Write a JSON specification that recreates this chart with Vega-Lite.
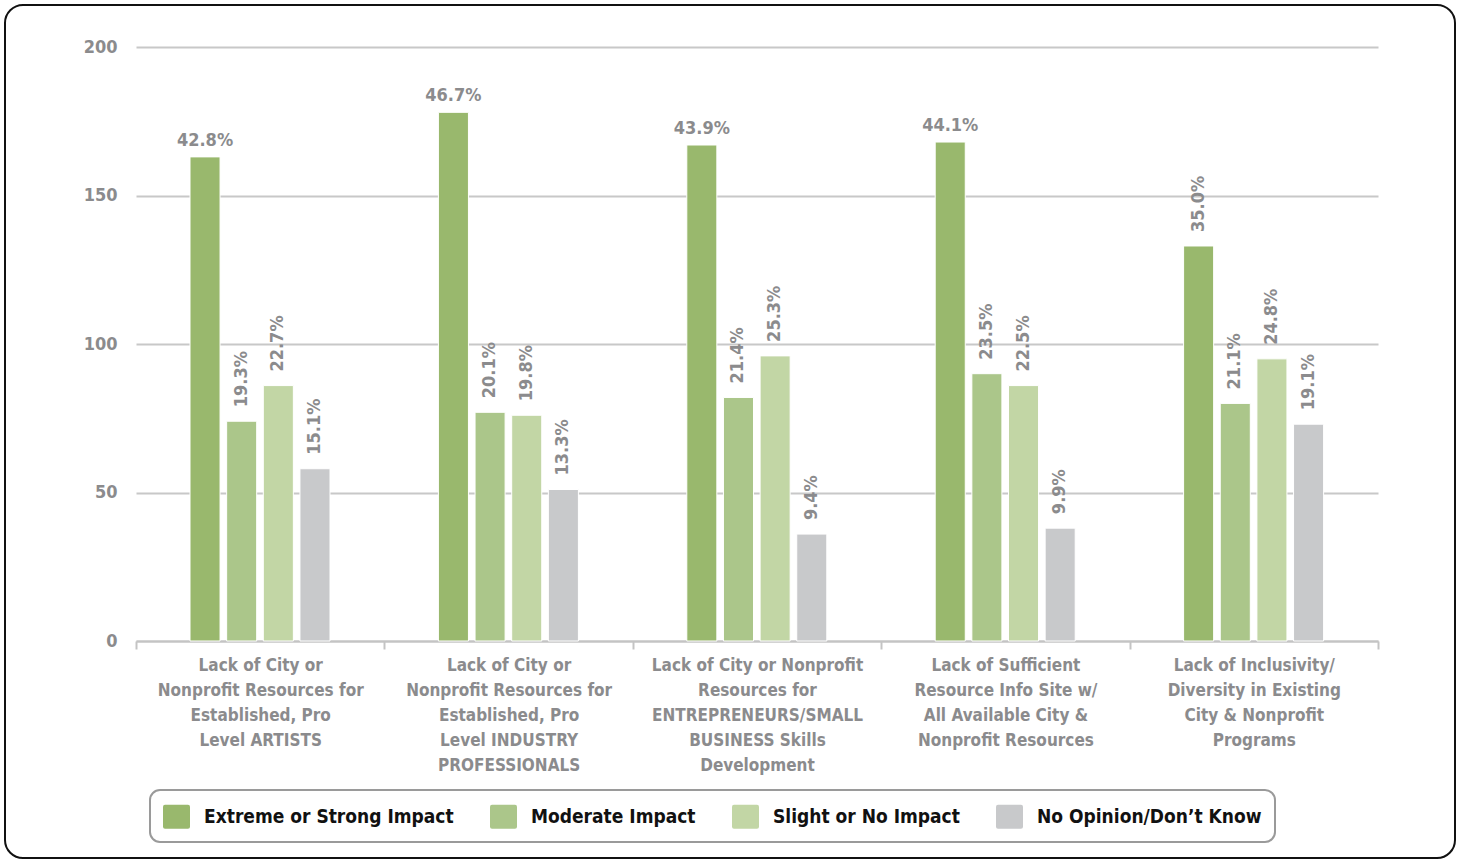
{
  "$schema": "https://vega.github.io/schema/vega-lite/v6.json",
  "width": 1450,
  "height": 853,
  "autosize": {"type": "none"},
  "padding": {"left": 5, "top": 5, "right": 6, "bottom": 2},
  "background": "white",
  "config": {
    "view": {"stroke": "#111111", "strokeWidth": 2, "cornerRadius": 18},
    "font": "DejaVu Sans Condensed, sans-serif",
    "legend": {"strokeWidth": 2}
  },
  "data": {
    "values": [
      {"problem": "Lack of City or|Nonprofit Resources for|Established, Pro|Level ARTISTS", "impact": "Extreme or Strong Impact", "count": 163, "pct": 0.428},
      {"problem": "Lack of City or|Nonprofit Resources for|Established, Pro|Level ARTISTS", "impact": "Moderate Impact", "count": 74, "pct": 0.193},
      {"problem": "Lack of City or|Nonprofit Resources for|Established, Pro|Level ARTISTS", "impact": "Slight or No Impact", "count": 86, "pct": 0.227},
      {"problem": "Lack of City or|Nonprofit Resources for|Established, Pro|Level ARTISTS", "impact": "No Opinion/Don’t Know", "count": 58, "pct": 0.151},
      {"problem": "Lack of City or|Nonprofit Resources for|Established, Pro|Level INDUSTRY|PROFESSIONALS", "impact": "Extreme or Strong Impact", "count": 178, "pct": 0.467},
      {"problem": "Lack of City or|Nonprofit Resources for|Established, Pro|Level INDUSTRY|PROFESSIONALS", "impact": "Moderate Impact", "count": 77, "pct": 0.201},
      {"problem": "Lack of City or|Nonprofit Resources for|Established, Pro|Level INDUSTRY|PROFESSIONALS", "impact": "Slight or No Impact", "count": 76, "pct": 0.198},
      {"problem": "Lack of City or|Nonprofit Resources for|Established, Pro|Level INDUSTRY|PROFESSIONALS", "impact": "No Opinion/Don’t Know", "count": 51, "pct": 0.133},
      {"problem": "Lack of City or Nonprofit|Resources for|ENTREPRENEURS/SMALL|BUSINESS Skills|Development", "impact": "Extreme or Strong Impact", "count": 167, "pct": 0.439},
      {"problem": "Lack of City or Nonprofit|Resources for|ENTREPRENEURS/SMALL|BUSINESS Skills|Development", "impact": "Moderate Impact", "count": 82, "pct": 0.214},
      {"problem": "Lack of City or Nonprofit|Resources for|ENTREPRENEURS/SMALL|BUSINESS Skills|Development", "impact": "Slight or No Impact", "count": 96, "pct": 0.253},
      {"problem": "Lack of City or Nonprofit|Resources for|ENTREPRENEURS/SMALL|BUSINESS Skills|Development", "impact": "No Opinion/Don’t Know", "count": 36, "pct": 0.094},
      {"problem": "Lack of Sufficient|Resource Info Site w/|All Available City &|Nonprofit Resources", "impact": "Extreme or Strong Impact", "count": 168, "pct": 0.441},
      {"problem": "Lack of Sufficient|Resource Info Site w/|All Available City &|Nonprofit Resources", "impact": "Moderate Impact", "count": 90, "pct": 0.235},
      {"problem": "Lack of Sufficient|Resource Info Site w/|All Available City &|Nonprofit Resources", "impact": "Slight or No Impact", "count": 86, "pct": 0.225},
      {"problem": "Lack of Sufficient|Resource Info Site w/|All Available City &|Nonprofit Resources", "impact": "No Opinion/Don’t Know", "count": 38, "pct": 0.099},
      {"problem": "Lack of Inclusivity/|Diversity in Existing|City & Nonprofit|Programs", "impact": "Extreme or Strong Impact", "count": 133, "pct": 0.350},
      {"problem": "Lack of Inclusivity/|Diversity in Existing|City & Nonprofit|Programs", "impact": "Moderate Impact", "count": 80, "pct": 0.211},
      {"problem": "Lack of Inclusivity/|Diversity in Existing|City & Nonprofit|Programs", "impact": "Slight or No Impact", "count": 95, "pct": 0.248},
      {"problem": "Lack of Inclusivity/|Diversity in Existing|City & Nonprofit|Programs", "impact": "No Opinion/Don’t Know", "count": 73, "pct": 0.191}
    ]
  },
  "encoding": {
    "x": {
      "field": "problem",
      "type": "nominal",
      "sort": null,
      "scale": {"range": [131, 1373], "paddingInner": 0, "paddingOuter": 0},
      "axis": {
        "title": null,
        "offset": -217,
        "labelAngle": 0,
        "labelExpr": "split(datum.label, '|')",
        "labelFontSize": 17,
        "labelFontWeight": "bold",
        "labelColor": "#8b8b8d",
        "labelLineHeight": 25,
        "labelPadding": 8,
        "labelLimit": 400,
        "tickBand": "extent",
        "tickSize": 8,
        "tickWidth": 2,
        "tickColor": "#c4c4c4",
        "domainColor": "#c4c4c4",
        "domainWidth": 2,
        "grid": false
      }
    },
    "xOffset": {
      "field": "impact",
      "type": "nominal",
      "sort": ["Extreme or Strong Impact", "Moderate Impact", "Slight or No Impact", "No Opinion/Don’t Know"],
      "scale": {"range": [54, 194], "paddingInner": 0.18, "paddingOuter": 0}
    },
    "y": {
      "field": "count",
      "type": "quantitative",
      "scale": {"domain": [0, 200], "range": [636, 42], "nice": false},
      "axis": {
        "title": null,
        "offset": -112,
        "values": [0, 50, 100, 150, 200],
        "domain": false,
        "ticks": false,
        "tickSize": 0,
        "labelPadding": 0,
        "labelFontSize": 18,
        "labelFontWeight": "bold",
        "labelColor": "#8b8b8d",
        "gridColor": "#c8c8c8",
        "gridWidth": 2
      }
    }
  },
  "layer": [
    {
      "mark": {"type": "bar", "stroke": "white", "strokeWidth": 1},
      "encoding": {
        "color": {
          "field": "impact",
          "type": "nominal",
          "scale": {
            "domain": ["Extreme or Strong Impact", "Moderate Impact", "Slight or No Impact", "No Opinion/Don’t Know"],
            "range": ["#99b86d", "#abc68a", "#c2d6a5", "#c8c9cb"]
          },
          "legend": {
            "title": null,
            "orient": "none",
            "legendX": 145,
            "legendY": 785,
            "direction": "horizontal",
            "strokeColor": "#9a9a9a",
            "cornerRadius": 10,
            "padding": 13,
            "fillColor": "white",
            "symbolType": "M-0.85,-0.89H0.85Q1,-0.89,1,-0.74V0.74Q1,0.89,0.85,0.89H-0.85Q-1,0.89,-1,0.74V-0.74Q-1,-0.89,-0.85,-0.89Z",
            "symbolSize": 729,
            "symbolStrokeWidth": 0,
            "symbolOpacity": 1,
            "labelFontSize": 19,
            "labelFontWeight": "bold",
            "labelColor": "#111111",
            "labelOffset": 14,
            "labelLimit": 400,
            "columnPadding": 36
          }
        }
      }
    },
    {
      "transform": [{"filter": "datum.count > 150"}],
      "mark": {"type": "text", "align": "center", "baseline": "bottom", "dy": -7, "fontSize": 18, "fontWeight": "bold", "color": "#8b8b8d"},
      "encoding": {"text": {"field": "pct", "type": "quantitative", "format": ".1%"}}
    },
    {
      "transform": [{"filter": "datum.count <= 150"}],
      "mark": {"type": "text", "angle": 270, "align": "left", "baseline": "middle", "dx": 14, "fontSize": 18, "fontWeight": "bold", "color": "#8b8b8d"},
      "encoding": {"text": {"field": "pct", "type": "quantitative", "format": ".1%"}}
    }
  ]
}
